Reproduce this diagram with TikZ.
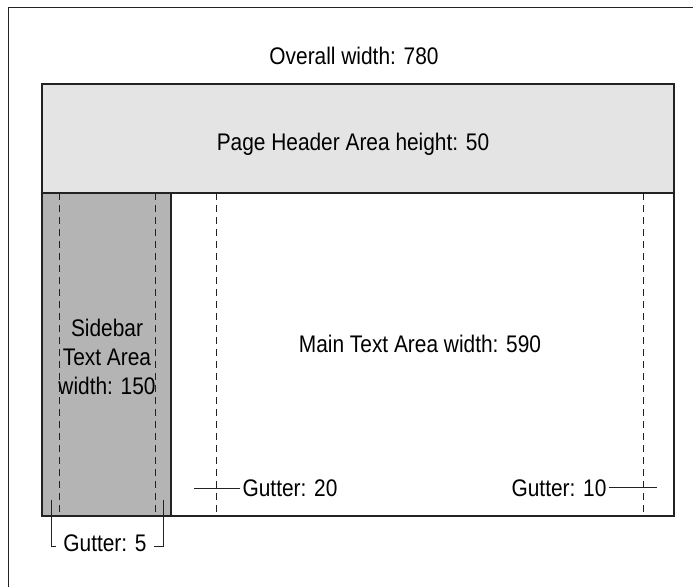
\documentclass[tikz,border=0pt]{standalone}
\usepackage{fontspec}
\setmainfont{Liberation Sans}[FakeStretch=0.87]
\definecolor{headgray}{HTML}{E4E4E4}
\definecolor{sidegray}{HTML}{B4B4B4}
\definecolor{rule}{HTML}{222222}
\begin{document}
\begin{tikzpicture}[x=1pt,y=-1pt,line width=1.2pt,draw=rule,
  font=\fontsize{24}{29}\selectfont,
  guide/.style={dash pattern=on 7pt off 5pt,line width=.9pt},
  gutter/.style={inner sep=2pt}]
  \clip (0,0) rectangle (693,586);
  % page frame, cut off at the right and bottom
  \draw[line width=1pt] (8,600) |- (700,8);
  % header and body
  \draw[fill=headgray] (42,84) rectangle (674,193);
  \fill[sidegray] (42,193) rectangle (171,516);
  \draw (171,193) -- (171,516);
  \draw (42,193) rectangle (674,516);
  \foreach \x in {59,155,216,643}
    \draw[guide] (\x,193) -- (\x,516);
  % labels
  \node[anchor=base] (overall) at (354,65) {Overall width: 780};
  \node[anchor=base] (header) at (353,150.5) {Page Header Area height: 50};
  \node[align=center] (sidebar) at (107,356.5) {Sidebar\\Text Area\\width: 150};
  \node (main) at (420,344) {Main Text Area width: 590};
  % gutters
  \coordinate (g20a) at (194,488);
  \coordinate (g10a) at (657,487);
  \coordinate (g5l) at (51,500);
  \coordinate (g5r) at (163,500);
  \node[gutter,anchor=base west] (g20) at (240,496) {Gutter: 20};
  \node[gutter,anchor=base east] (g10) at (609,496) {Gutter: 10};
  \node[gutter,anchor=base] (g5) at (105,551.7) {Gutter: 5};
  \draw[line width=1pt] (g20a) -- (g20a -| g20.west);
  \draw[line width=1pt] (g10a -| g10.east) -- (g10a);
  \draw[line width=1pt] (g5l) |- ([yshift=-3pt,xshift=-5pt]g5.west);
  \draw[line width=1pt] (g5r) |- ([yshift=-3pt,xshift=5pt]g5.east);
\end{tikzpicture}
\end{document}
